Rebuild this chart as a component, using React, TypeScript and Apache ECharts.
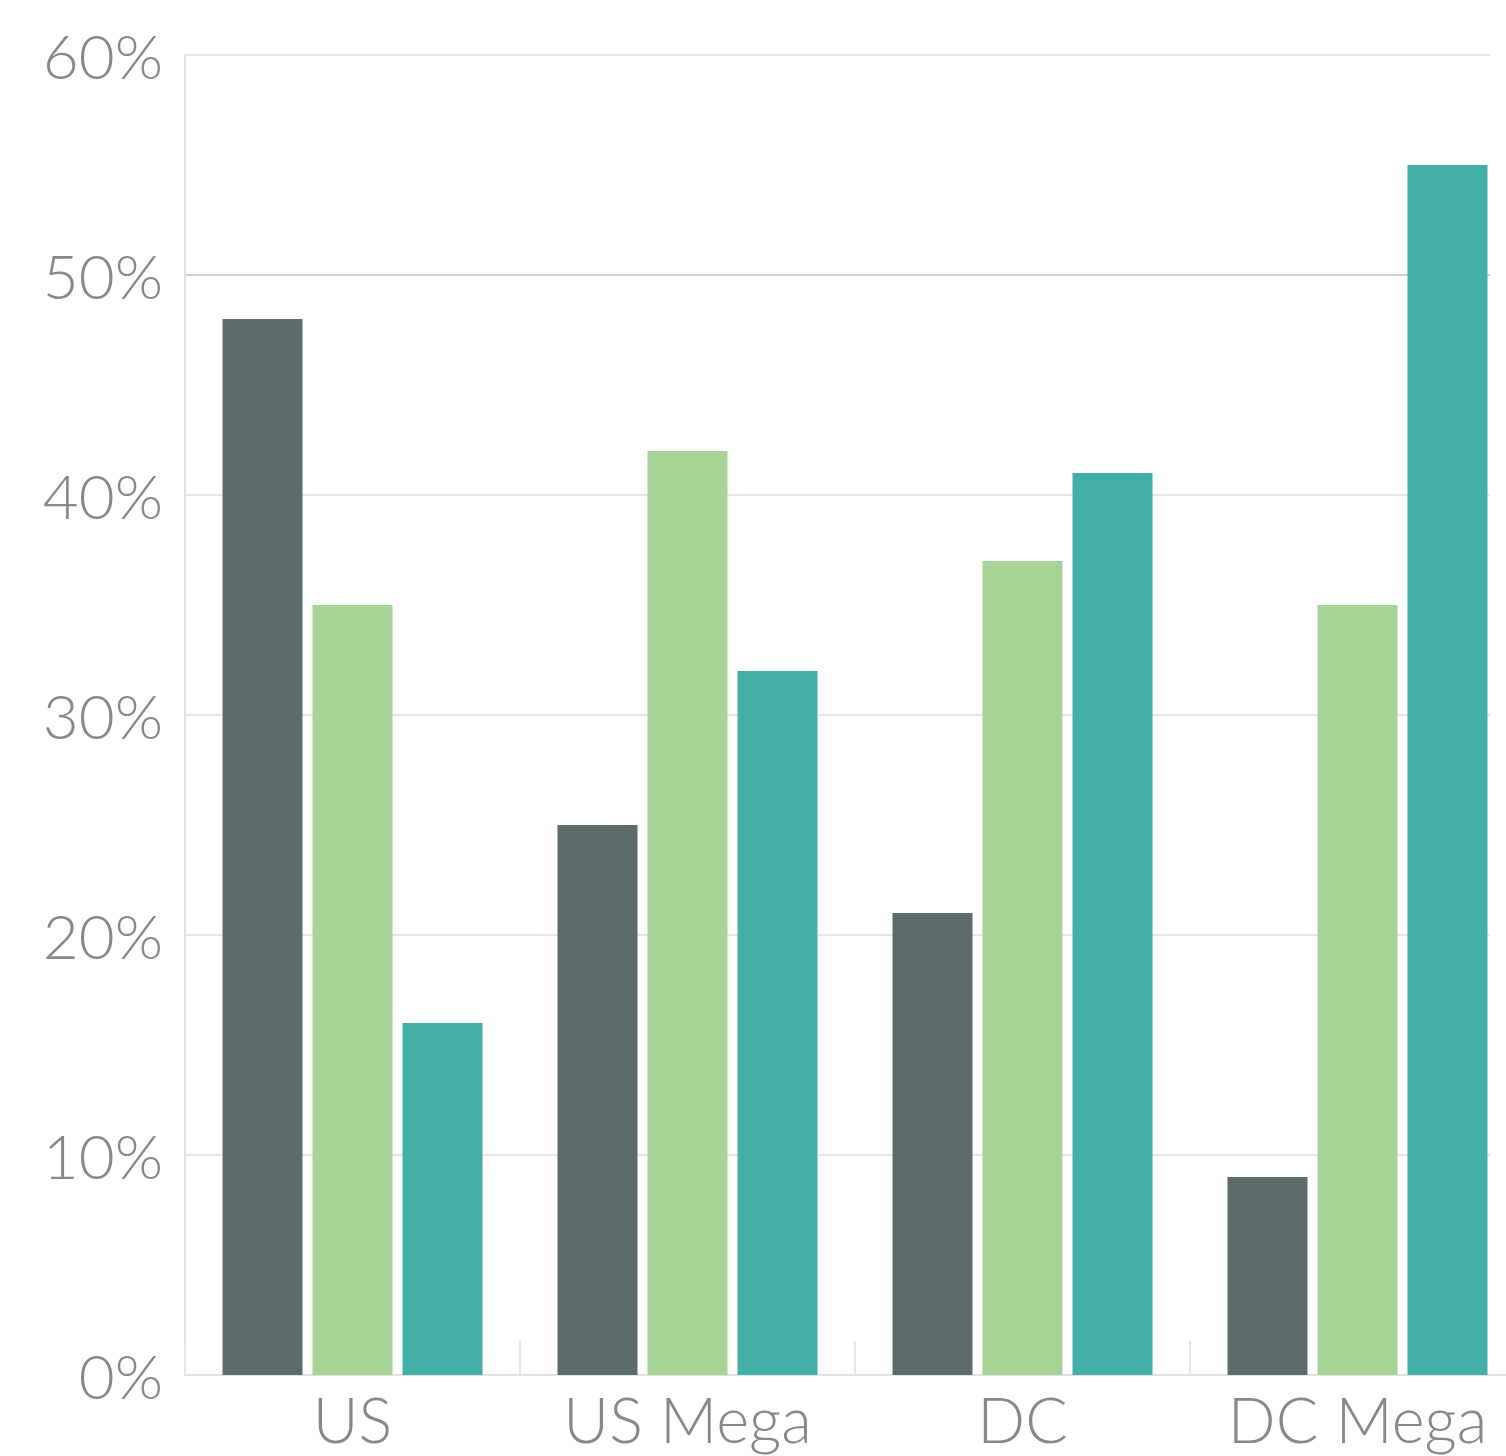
import React, { useEffect, useRef } from "react";
import * as echarts from "echarts";

const categories = ["US", "US Mega", "DC", "DC Mega"];
const seriesA = [48, 25, 21, 9];
const seriesB = [35, 42, 37, 35];
const seriesC = [16, 32, 41, 55];
const yTicks = [0, 10, 20, 30, 40, 50, 60];

const COLORS = ["#5d6b6c", "#a8d396", "#42aea6"];
const FONT = "Lato, 'Open Sans', sans-serif";

export default function App() {
  const ref = useRef<HTMLDivElement>(null);
  useEffect(() => {
    if (!ref.current) return;
    const chart = echarts.init(ref.current, undefined, { renderer: "svg" });
    const mk = (name: string, data: number[], color: string) => ({
      name,
      type: "bar",
      data,
      barWidth: 80,
      barGap: "12.5%",
      itemStyle: { color },
    });
    chart.setOption({
      animation: false,
      backgroundColor: "#ffffff",
      grid: { left: 185, top: 55, width: 1340, height: 1320, containLabel: false },
      graphic: {
        elements: [
          {
            type: "rect",
            z: 100,
            zlevel: 0,
            x: 1490,
            y: 0,
            shape: { x: 0, y: 0, width: 70, height: 1370 },
            style: { fill: "#ffffff" },
            silent: true,
          },
        ],
      },
      xAxis: {
        type: "category",
        data: categories,
        axisLine: { show: true, lineStyle: { color: "#e2e2e2", width: 2 } },
        axisTick: { show: true, inside: true, length: 34, lineStyle: { color: "#e6e6e6", width: 2 } },
        axisLabel: {
          interval: 0,
          color: "#888888",
          fontFamily: FONT,
          fontWeight: 300,
          fontSize: 63,
          margin: 12,
          verticalAlign: "top",
        },
      },
      yAxis: {
        type: "value",
        min: yTicks[0],
        max: yTicks[yTicks.length - 1],
        interval: 10,
        axisLine: { show: true, lineStyle: { color: "#e2e2e2", width: 2 } },
        axisTick: { show: false },
        splitLine: {
          show: true,
          lineStyle: {
            color: ["#e6e6e6", "#e6e6e6", "#e6e6e6", "#e6e6e6", "#e6e6e6", "#d0d0d0", "#e6e6e6"],
            width: 2,
          },
        },
        axisLabel: {
          color: "#888888",
          fontFamily: FONT,
          fontWeight: 300,
          fontSize: 62,
          margin: 22,
          formatter: (v: number) => v + "%",
        },
      },
      series: [
        mk("A", seriesA, COLORS[0]),
        mk("B", seriesB, COLORS[1]),
        mk("C", seriesC, COLORS[2]),
      ],
    });
    return () => chart.dispose();
  }, []);
  return (
    <div style={{ position: "absolute", left: 0, top: 0, width: 1506, height: 1456, overflow: "hidden" }}>
      <div ref={ref} style={{ position: "absolute", left: 0, top: 0, width: 1560, height: 1456 }} />
    </div>
  );
}
